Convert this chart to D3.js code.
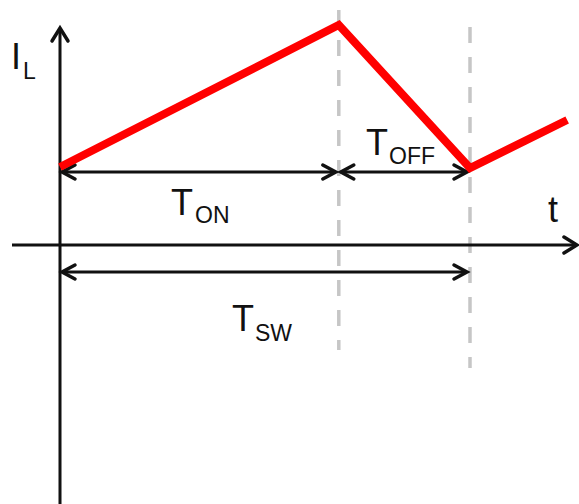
<!DOCTYPE html>
<html>
<head>
<meta charset="utf-8">
<script src="https://cdn.jsdelivr.net/npm/d3@7"></script>
<style>
  html, body { margin: 0; padding: 0; background: #fff; }
  svg { display: block; }
  text { font-family: "Liberation Sans", Arial, sans-serif; fill: #111; }
</style>
</head>
<body>
<svg id="chart" width="579" height="504"></svg>
<script>
// Inductor current waveform over one switching period (time normalised to T_SW = 1)
const waveTime    = [0, 0.68, 1, 1.237];
const waveCurrent = [0.78, 2.2, 0.77, 1.25];

// Switching instants marked with dashed guides
const guideTimes = [0.68, 1];

// Dimension arrows: [start, end] in normalised time
const dimNames = ["T_ON", "T_OFF", "T_SW"];
const dimStart = [0, 0.68, 0];
const dimEnd   = [0.68, 1, 1];

const width = 579, height = 504;
const svg = d3.select("#chart");

const x = d3.scaleLinear().domain([0, 1]).range([60, 470]);
const y = d3.scaleLinear().domain([0, 1]).range([245, 145]);

const black = "#111";

// Open chevron arrowhead pointing along the direction (dx,dy)
function chevron(g, tipX, tipY, dirX, dirY, len, half, w) {
  const px = -dirY, py = dirX;
  const bx = tipX - dirX * len, by = tipY - dirY * len;
  g.append("path")
    .attr("d", `M${bx + px * half},${by + py * half}L${tipX},${tipY}L${bx - px * half},${by - py * half}`)
    .attr("fill", "none").attr("stroke", black).attr("stroke-width", w)
    .attr("stroke-linejoin", "miter").attr("stroke-linecap", "round");
}

// Dashed switching guides
const guideTop = [10, 27], guideBottom = [350, 368];
svg.append("g").selectAll("line").data(guideTimes).join("line")
  .attr("x1", d => x(d)).attr("x2", d => x(d))
  .attr("y1", (d, i) => guideTop[i]).attr("y2", (d, i) => guideBottom[i])
  .attr("stroke", "#c6c6c6").attr("stroke-width", 3.5)
  .attr("stroke-dasharray", "16,14");

// Axes
const axes = svg.append("g");
axes.append("line").attr("x1", x(0)).attr("x2", x(0)).attr("y1", 29).attr("y2", height)
  .attr("stroke", black).attr("stroke-width", 3);
chevron(axes, x(0), 28, 0, -1, 13, 8, 3.5);
axes.append("line").attr("x1", 12).attr("x2", 576).attr("y1", y(0)).attr("y2", y(0))
  .attr("stroke", black).attr("stroke-width", 3);
chevron(axes, 577, y(0), 1, 0, 13, 8, 3.5);

// Dimension arrows
const dimY = [172, 172, 272];
const dims = svg.append("g");
dimNames.forEach((n, i) => {
  const a = x(dimStart[i]) + 2, b = x(dimEnd[i]) - 3;
  const yy = dimY[i];
  dims.append("line").attr("x1", a).attr("x2", b).attr("y1", yy).attr("y2", yy)
    .attr("stroke", black).attr("stroke-width", 3);
  chevron(dims, a, yy, -1, 0, 13, 7, 3.5);
  chevron(dims, b, yy, 1, 0, 13, 7, 3.5);
});

// Inductor current
const pts = waveTime.map((t, i) => [x(t), y(waveCurrent[i])]);
svg.append("path")
  .attr("d", d3.line()(pts))
  .attr("fill", "none").attr("stroke", "#ff0000").attr("stroke-width", 8)
  .attr("stroke-linejoin", "miter");

// Labels: main letter + subscript
function label(main, sub, mx, my, sx, sy) {
  const g = svg.append("g");
  g.append("text").attr("x", mx).attr("y", my).attr("font-size", 36).text(main);
  if (sub) g.append("text").attr("x", sx).attr("y", sy).attr("font-size", 23).text(sub);
}
label("I", "L", 11, 69, 23, 79);
label("T", "ON", 171, 215, 195, 223);
label("T", "OFF", 366, 155, 389, 164);
label("T", "SW", 232, 331, 255, 341);
label("t", null, 548, 222);
</script>
</body>
</html>
